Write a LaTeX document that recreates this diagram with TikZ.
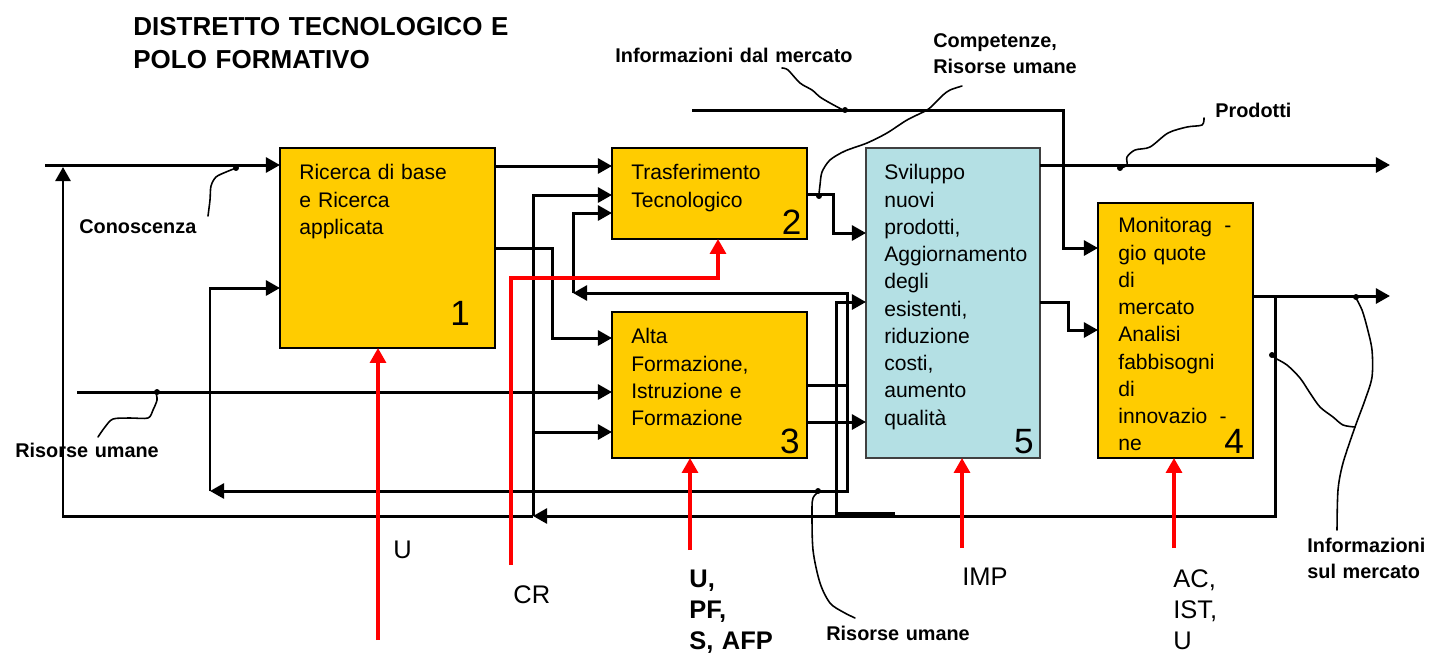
\documentclass[tikz,border=0pt]{standalone}
\usepackage{fontspec}
\setmainfont{Liberation Sans}
\usetikzlibrary{arrows.meta}
\definecolor{boxyellow}{HTML}{FFCC00}
\definecolor{boxblue}{HTML}{B4E0E4}
\definecolor{arrred}{HTML}{FF0000}
\tikzset{
  box/.style={draw=black, line width=1pt, fill=boxyellow, anchor=north west, inner sep=0pt, outer sep=0pt},
  txt/.style={anchor=base west, inner sep=0pt, text width=4cm, align=left, font=\fontsize{12}{15.5}\selectfont},
  num/.style={anchor=base east, inner sep=0pt, font=\fontsize{20}{24}\selectfont},
  conn/.style={line width=1.7pt, -{Triangle[length=8pt,width=8.5pt]}},
  redconn/.style={draw=arrred, line width=2pt, -{Triangle[length=8.5pt,width=9pt]}},
  lbl/.style={anchor=base west, inner sep=0pt, text width=5cm, align=left, font=\bfseries\fontsize{11.3}{14.8}\selectfont},
  redlbl/.style={anchor=base west, inner sep=0pt, text width=3cm, align=left, font=\fontsize{14.5}{17.9}\selectfont},
  squig/.style={line width=0.9pt, line cap=round, line join=round},
  dot/.style={fill=black}
}
\begin{document}
\begin{tikzpicture}[x=0.02cm, y=-0.02cm]
	\useasboundingbox (0,0) rectangle (1430,654);
	\node [anchor=base west, inner sep=0pt, text width=12cm, align=left, font=\bfseries\fontsize{14.8}{18.8}\selectfont] (title) at (133,35) {DISTRETTO TECNOLOGICO E\\POLO FORMATIVO};

	% blocchi
	\node [box, minimum width=4.3cm, minimum height=4cm] (ricerca) at (280,148) {};
	\node [box, minimum width=3.9cm, minimum height=1.82cm] (trasf) at (612,148) {};
	\node [box, minimum width=3.9cm, minimum height=2.92cm] (alta) at (612,312) {};
	\node [box, draw=black!75, fill=boxblue, minimum width=3.48cm, minimum height=6.2cm] (svil) at (866,148) {};
	\node [box, minimum width=3.1cm, minimum height=5.1cm] (monit) at (1098,203) {};

	\node [txt] (t1) at ([xshift=10.8pt,yshift=-18.2pt]ricerca.north west) {Ricerca di base\\e Ricerca\\applicata};
	\node [txt] (t2) at ([xshift=10.8pt,yshift=-18.2pt]trasf.north west) {Trasferimento\\Tecnologico};
	\node [txt] (t3) at ([xshift=10.8pt,yshift=-18.2pt]alta.north west) {Alta\\Formazione,\\Istruzione e\\Formazione};
	\node [txt] (t5) at ([xshift=10.2pt,yshift=-18.2pt]svil.north west) {Sviluppo\\nuovi\\prodotti,\\Aggiornamento\\degli\\esistenti,\\riduzione\\costi,\\aumento\\qualità};
	\node [txt] (t4) at ([xshift=11.4pt,yshift=-17pt]monit.north west) {Monitorag\hspace{7pt}-\\gio quote\\di\\mercato\\Analisi\\fabbisogni\\di\\innovazio\hspace{7pt}-\\ne};

	\node [num] (n1) at ([xshift=-14pt,yshift=13pt]ricerca.south east) {1};
	\node [num] (n2) at ([xshift=-3pt,yshift=2.3pt]trasf.south east) {2};
	\node [num] (n3) at ([xshift=-4pt,yshift=2.8pt]alta.south east) {3};
	\node [num] (n5) at ([xshift=-3.4pt,yshift=2.3pt]svil.south east) {5};
	\node [num] (n4) at ([xshift=-5pt,yshift=2.3pt]monit.south east) {4};

	% punti liberi
	\coordinate (conin) at (45,165);
	\coordinate (rumin) at (77,392);
	\coordinate (mercin) at (692,110);
	\coordinate (prodout) at (1390,165);
	\coordinate (infout) at (1390,296);
	\coordinate (fbsplit) at (1275,296);
	\coordinate (fbleft) at (533,516);
	\coordinate (fbup) at (63,167);
	\coordinate (altaup) at (847,385);
	\coordinate (backtr) at (573,293);
	\coordinate (backric) at (210,491);
	\coordinate (fbsvil) at (895,513);

	% collegamenti
	\draw [conn] (conin) -- (ricerca.west |- conin);
	\draw [conn] (ricerca.east |- 0,166) -- (trasf.west |- 0,166);
	\draw [conn] (ricerca.east |- 0,248) -| (552,338) -- (alta.west |- 0,338);
	\draw [conn] (rumin) -- (alta.west |- rumin);
	\draw [conn] (monit.east |- infout) -- (infout);
	\draw [conn] (fbsplit) |- (fbleft);
	\draw [conn] (fbleft) -- (63,516) -- (fbup);
	\draw [conn] (fbleft) |- (trasf.west |- 0,195);
	\draw [conn] (533,432) -- (alta.west |- 0,432);
	\draw [conn] (alta.east |- altaup) -| (847,293) -- (backtr);
	\draw [conn] (backtr) |- (trasf.west |- 0,213);
	\draw [conn] (altaup) |- (backric);
	\draw [conn] (backric) |- (ricerca.west |- 0,288);
	\draw [conn] (alta.east |- 0,422) -- (svil.west |- 0,422);
	\draw [conn] (fbsvil) -| (836,302) -- (svil.west |- 0,302);
	\draw [conn] (trasf.east |- 0,194) -| (833,233) -- (svil.west |- 0,233);
	\draw [conn] (mercin) -| (1063,248) -- (monit.west |- 0,248);
	\draw [conn] (svil.east |- prodout) -- (prodout);
	\draw [conn] (svil.east |- 0,302) -| (1068,330) -- (monit.west |- 0,330);

	% ingressi rossi
	\coordinate (inu) at (378,640);
	\coordinate (incr) at (511,565);
	\coordinate (inupf) at (690,550);
	\coordinate (inimp) at (962,548);
	\coordinate (inac) at (1174,548);
	\draw [redconn] (inu) -- (ricerca.south -| inu);
	\draw [redconn] (incr) |- (718,278) -- (trasf.south -| 718,0);
	\draw [redconn] (inupf) -- (alta.south -| inupf);
	\draw [redconn] (inimp) -- (svil.south -| inimp);
	\draw [redconn] (inac) -- (monit.south -| inac);

	\node [redlbl] (lu) at (393,558) {U};
	\node [redlbl] (lcr) at (513,603) {CR};
	\node [redlbl, font=\bfseries\fontsize{14.5}{17.9}\selectfont] (lupf) at (689,587) {U,\\PF,\\S, AFP};
	\node [redlbl] (limp) at (962,585) {IMP};
	\node [redlbl] (lac) at (1173,587) {AC,\\IST,\\U};

	% etichette dei flussi
	\node [lbl] (conosc) at (79,233) {Conoscenza};
	\node [lbl] (rumleft) at (15,457) {Risorse umane};
	\node [lbl] (infdal) at (615,62) {Informazioni dal mercato};
	\node [lbl] (compet) at (933,47) {Competenze,\\Risorse umane};
	\node [lbl] (prod) at (1215,117) {Prodotti};
	\node [lbl] (infsul) at (1307,552) {Informazioni\\sul mercato};
	\node [lbl] (rumbot) at (826,640) {Risorse umane};

	\draw [squig] plot [smooth] coordinates {(208,216) (210,200) (211,186) (216,177) (226,172) (236,168)};
	\draw [squig] plot [smooth] coordinates {(98,437) (105,427) (113,419) (130,418) (148,418) (153,410) (157,400) (156,393)};
	\draw [squig] plot [smooth] coordinates {(782,68) (788,70) (800,83) (812,90) (820,97) (830,103) (843,110)};
	\draw [squig] plot [smooth] coordinates {(962,86) (950,90) (943,95) (935,103) (927,110) (907,120) (887,133) (867,143) (845,151) (830,160) (822,172) (820,185) (819,194)};
	\draw [squig] plot [smooth] coordinates {(1204,118) (1202,125) (1187,127) (1168,133) (1150,147) (1135,150) (1127,157) (1127,165) (1121,168)};
	\draw [squig] plot [smooth] coordinates {(855,618) (843,612) (830,603) (820,583) (813,550) (812,510) (813,498) (818,492)};
	\draw [squig] plot [smooth] coordinates {(1337,530) (1338,490) (1343,463) (1355,427) (1365,400) (1372,377) (1372,350) (1367,327) (1362,310) (1356,298)};
	\draw [squig] plot [smooth] coordinates {(1355,427) (1343,425) (1333,417) (1320,407) (1310,393) (1300,378) (1287,365) (1275,358) (1272,355)};
	\foreach \p in {(236,168),(157,392),(845,110),(819,196),(1120,168),(818,491),(1356,297),(1272,355)}
		\fill [dot] \p circle [radius=1.7pt];
\end{tikzpicture}
\end{document}
